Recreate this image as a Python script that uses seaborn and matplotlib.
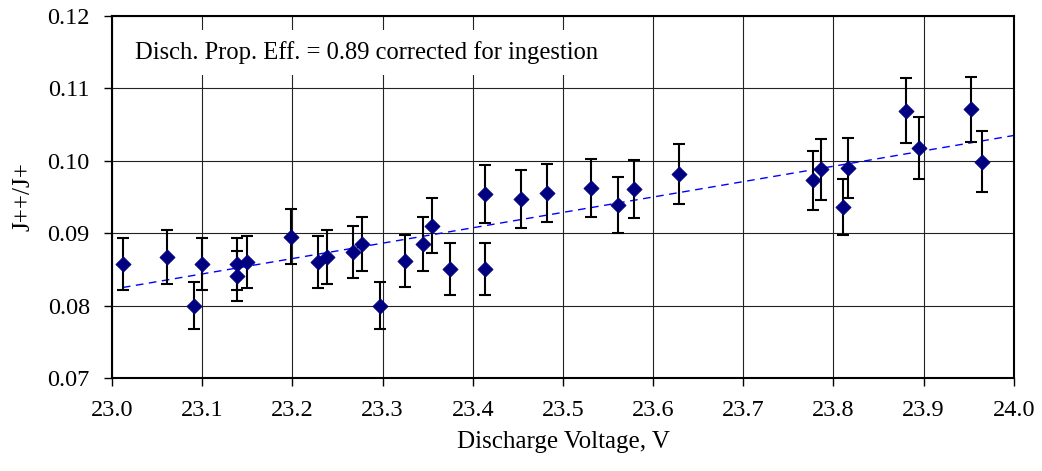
import numpy as np
import pandas as pd
import matplotlib
matplotlib.use("Agg")
import matplotlib.pyplot as plt
import seaborn as sns

# ---- data ----
voltage = [23.012, 23.061, 23.091, 23.100, 23.139, 23.139, 23.150, 23.199,
           23.228, 23.238, 23.267, 23.277, 23.297, 23.325, 23.345, 23.355,
           23.375, 23.414, 23.414, 23.453, 23.482, 23.531, 23.561, 23.579,
           23.629, 23.777, 23.786, 23.810, 23.816, 23.880, 23.895, 23.953,
           23.965]
ratio = [0.0857, 0.0867, 0.0800, 0.0857, 0.0857, 0.0841, 0.0860, 0.0895,
         0.0860, 0.0867, 0.0874, 0.0885, 0.0800, 0.0862, 0.0885, 0.0910,
         0.0851, 0.0954, 0.0851, 0.0947, 0.0955, 0.0962, 0.0939, 0.0961,
         0.0982, 0.0973, 0.0988, 0.0936, 0.0990, 0.1069, 0.1018, 0.1071,
         0.0999]
ratio_err = [0.0036, 0.0037, 0.0033, 0.0036, 0.0036, 0.0035, 0.0036, 0.0038,
             0.0036, 0.0037, 0.0036, 0.0037, 0.0033, 0.0036, 0.0037, 0.0038,
             0.0036, 0.0040, 0.0036, 0.0040, 0.0040, 0.0040, 0.0039, 0.0040,
             0.0041, 0.0041, 0.0042, 0.0039, 0.0042, 0.0045, 0.0043, 0.0045,
             0.0042]
trend_x = [23.012, 24.0]
trend_y = [0.0825, 0.1035]
x_ticks = [23.0, 23.1, 23.2, 23.3, 23.4, 23.5, 23.6, 23.7, 23.8, 23.9, 24.0]
y_ticks = [0.07, 0.08, 0.09, 0.10, 0.11, 0.12]
annotation = "Disch. Prop. Eff. = 0.89 corrected for ingestion"
x_label = "Discharge Voltage, V"
y_label = "J++/J+"

df = pd.DataFrame({"V": voltage, "R": ratio, "E": ratio_err})
trend = pd.DataFrame({"V": trend_x, "R": trend_y})

sns.set_theme(style="white")
plt.rcParams["font.family"] = ["Liberation Serif", "DejaVu Serif"]
plt.rcParams["text.color"] = "black"
plt.rcParams["axes.labelcolor"] = "black"
plt.rcParams["xtick.color"] = "black"
plt.rcParams["ytick.color"] = "black"

fig = plt.figure(figsize=(10.42, 4.71), dpi=100)
ax = fig.add_axes([0.1075, 0.1975, 0.8655, 0.7685])

# grid
ax.set_axisbelow(True)
ax.grid(True, color="#222222", linewidth=0.8)

# error bars
ax.errorbar(df["V"], df["R"], yerr=df["E"], fmt="none", ecolor="black",
            elinewidth=1.5, capsize=4.5, capthick=1.5, zorder=3)

# trend line
sns.lineplot(data=trend, x="V", y="R", ax=ax, color="#0000FF",
             linewidth=1.0, dashes=False, zorder=2)
ax.lines[-1].set_dashes([5.5, 4])

# points
sns.scatterplot(data=df, x="V", y="R", ax=ax, marker="D", s=60,
                color="#000080", edgecolor="#000080", linewidth=0.5, zorder=4)

ax.set_xlim(23.0, 24.0)
ax.set_ylim(0.07, 0.12)
ax.set_xticks(x_ticks)
ax.set_yticks(y_ticks)
ax.set_xticklabels([f"{t:.1f}" for t in x_ticks])
ax.set_yticklabels([f"{t:.2f}" for t in y_ticks])
ax.tick_params(axis="both", which="both", direction="out", length=6,
               width=1.0, color="black", labelcolor="black", labelsize=17.5,
               pad=10, bottom=True, left=True)
for sp in ax.spines.values():
    sp.set_color("black")
    sp.set_linewidth(1.5)

ax.set_xlabel(x_label, fontsize=18, labelpad=7, color="black")
ax.set_ylabel(y_label, fontsize=18, labelpad=9, color="black")

ax.text(0.025, 0.9, annotation, transform=ax.transAxes, fontsize=17.7,
        va="center", ha="left", zorder=5, color="black",
        bbox=dict(boxstyle="square,pad=0.45", facecolor="white",
                  edgecolor="none"))

fig.savefig("out.png", dpi=100)
